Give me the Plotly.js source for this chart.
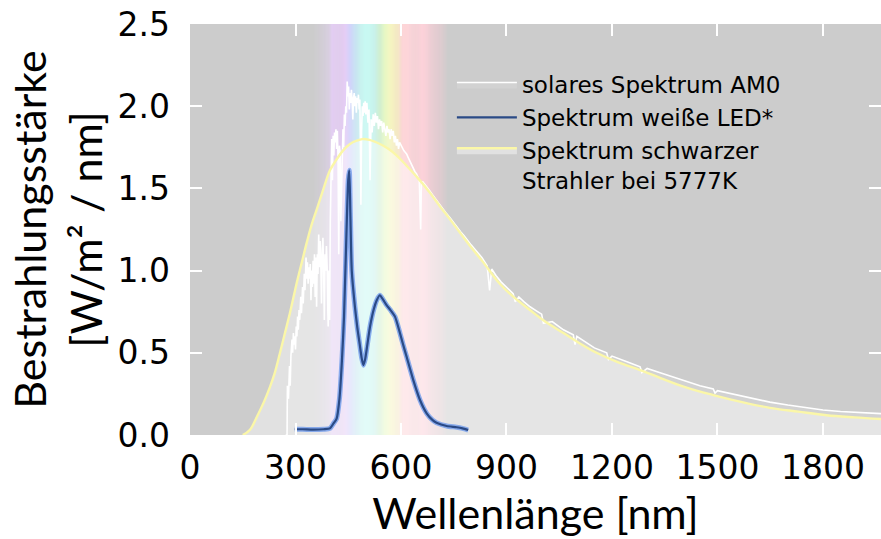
<!DOCTYPE html>
<html>
<head>
<meta charset="utf-8">
<script src="https://cdn.plot.ly/plotly-3.0.1.min.js"></script>
<style>html,body{margin:0;padding:0;background:#fff;overflow:hidden}</style>
</head>
<body>
<div id="chart" style="width:881px;height:539px"></div>
<script>
// ---- Data ----
const solarWl = [272,276,277,280,283,285,287,290,292,294,296,298,300,302,304,306,308,310,312,315,317,320,322,325,327,330,332,334,336,338,340,342,344,346,348,350,352,354,356,358,360,362,364,366,368,370,372,374,376,378,380,382,384,386,388,390,392,393,395,397,399,401,403,405,407,409,411,413,415,417,419,421,423,425,427,429,431,433,435,437,439,441,443,445,447,449,451,453,455,457,459,461,463,465,467,469,471,473,475,477,479,481,483,485,486,488,490,492,494,496,498,500,503,506,509,512,515,518,521,524,527,530,533,536,539,542,545,548,551,554,557,560,563,566,569,572,575,578,581,584,587,590,593,596,600,604,608,612,616,620,624,628,632,636,640,644,648,652,656,658,662,666,670,680,690,700,710,720,730,740,750,760,770,780,790,800,810,820,830,845,852,858,870,885,900,919,925,935,950,967,985,1000,1005,1030,1062,1090,1095,1100,1150,1185,1190,1200,1250,1280,1285,1300,1337,1400,1450,1488,1493,1500,1550,1578,1600,1649,1700,1750,1800,1850,1900,1965];
const solarVal = [0,0,0.30,0.22,0.42,0.30,0.48,0.58,0.50,0.62,0.55,0.60,0.52,0.66,0.60,0.72,0.64,0.76,0.70,0.84,0.74,0.90,0.80,0.98,0.88,1.08,0.95,1.05,0.92,1.02,0.95,1.04,0.82,1.00,0.90,1.06,0.92,1.10,0.84,1.08,0.78,1.10,0.98,1.22,1.02,1.18,1.05,0.80,1.12,1.20,1.00,0.70,1.10,1.00,1.15,1.02,0.75,0.66,1.00,0.70,1.30,1.62,1.80,1.55,1.82,1.70,1.84,1.78,1.86,1.74,1.85,1.68,1.10,1.76,1.72,1.30,1.52,1.80,1.86,1.75,1.95,1.88,2.00,1.96,2.15,2.06,2.12,1.98,2.08,2.02,2.10,2.04,1.92,2.05,2.08,2.00,2.06,1.96,2.05,2.02,2.07,1.98,2.04,1.70,1.40,1.85,2.00,1.94,2.02,1.96,2.03,1.95,2.02,1.90,1.98,1.55,1.92,1.84,1.95,1.88,1.96,1.90,1.94,1.86,1.92,1.88,1.91,1.84,1.90,1.86,1.82,1.88,1.84,1.86,1.80,1.86,1.82,1.85,1.78,1.82,1.76,1.80,1.74,1.78,1.76,1.74,1.73,1.72,1.71,1.69,1.67,1.65,1.63,1.61,1.60,1.59,1.57,1.55,1.25,1.54,1.54,1.53,1.52,1.49,1.46,1.43,1.40,1.37,1.345,1.32,1.29,1.26,1.235,1.21,1.18,1.155,1.13,1.105,1.08,1.03,0.88,1.01,0.97,0.93,0.90,0.86,0.81,0.84,0.81,0.78,0.755,0.735,0.68,0.69,0.64,0.61,0.55,0.60,0.53,0.50,0.46,0.48,0.44,0.415,0.38,0.405,0.379,0.335,0.30,0.28,0.255,0.27,0.245,0.232,0.22,0.20,0.182,0.166,0.152,0.143,0.137,0.13];

const bbWl  = [150,170,190,210,227,240,256,270,284,303,318,332,346,360,380,398,415,435,455,474,490,510,540,565,588,615,645,680,711,740,768,800,834,881,920,967,1010,1062,1110,1156,1220,1280,1340,1410,1488,1570,1649,1730,1810,1890,1965];
const bbVal = [0,0.03,0.11,0.20,0.29,0.37,0.50,0.62,0.74,0.92,1.05,1.17,1.28,1.37,1.50,1.61,1.67,1.73,1.77,1.79,1.80,1.795,1.77,1.74,1.70,1.64,1.57,1.48,1.39,1.31,1.23,1.14,1.05,0.92,0.84,0.76,0.69,0.62,0.555,0.50,0.44,0.395,0.345,0.29,0.243,0.20,0.165,0.142,0.12,0.107,0.097];

const ledWl  = [298,320,350,380,398,408,417,425,432,438,446,450,453,456,460,469,476,482,488,493,498,505,512,522,531,540,550,559,570,583,597,606,616,635,654,673,690,701,730,758,775,791];
const ledVal = [0.035,0.035,0.033,0.035,0.04,0.07,0.10,0.22,0.45,0.72,1.31,1.55,1.61,1.35,1.00,0.78,0.65,0.56,0.47,0.425,0.46,0.56,0.66,0.76,0.82,0.85,0.82,0.79,0.76,0.72,0.62,0.55,0.476,0.334,0.213,0.132,0.09,0.075,0.055,0.047,0.04,0.03];

const xTicks = [0,300,600,900,1200,1500,1800];
const yTicks = [0,0.5,1.0,1.5,2.0,2.5];

const names = ['solares Spektrum AM0','Spektrum weiße LED*','Spektrum schwarzer<br>Strahler bei 5777K'];

// ---- Visible-light background band (decoration) ----
const bandStops = [
  [350,'#cccccc'],[395,'#d8cfe0'],[405,'#e4cdf4'],[440,'#e6cdf6'],[455,'#d2d2fa'],
  [470,'#c8e6fa'],[485,'#c8f8f4'],[525,'#c8f8f0'],[540,'#d2f5d0'],[555,'#e8f7c4'],
  [575,'#fbf7c0'],[592,'#fcecc4'],[603,'#fdd6d8'],[660,'#fdd2da'],[700,'#e8ccd2'],[735,'#cccccc']
];
function hex2rgb(h){return [1,3,5].map(i=>parseInt(h.substr(i,2),16));}
function bandColor(w){
  for(let i=0;i<bandStops.length-1;i++){
    const [w0,c0]=bandStops[i],[w1,c1]=bandStops[i+1];
    if(w>=w0&&w<=w1){
      const t=(w-w0)/(w1-w0),a=hex2rgb(c0),b=hex2rgb(c1);
      return 'rgb('+a.map((v,k)=>Math.round(v+(b[k]-v)*t)).join(',')+')';
    }
  }
  return '#cccccc';
}
const shapes=[];
const step=3;
for(let w=bandStops[0][0]; w<bandStops[bandStops.length-1][0]; w+=step){
  shapes.push({type:'rect',xref:'x',yref:'paper',x0:w,x1:w+step+0.6,y0:0,y1:1,
    fillcolor:bandColor(w+step/2),line:{width:0},layer:'below'});
}

const traces = [
  {x:solarWl,y:solarVal,name:names[0],type:'scatter',mode:'lines',
   line:{color:'#ffffff',width:1.6},fill:'tozeroy',fillcolor:'rgba(255,255,255,0.12)',legendrank:1},
  {x:bbWl,y:bbVal,name:names[2],type:'scatter',mode:'lines',
   line:{color:'#fbf7a8',width:2.4,shape:'spline',smoothing:1},fill:'tozeroy',fillcolor:'rgba(255,255,255,0.42)',legendrank:3},
  {x:ledWl,y:ledVal,name:'halo',type:'scatter',mode:'lines',showlegend:false,hoverinfo:'skip',
   line:{color:'rgba(120,160,235,0.85)',width:5,shape:'spline',smoothing:0.6}},
  {x:ledWl,y:ledVal,name:names[1],type:'scatter',mode:'lines',
   line:{color:'#2a4a86',width:2.2,shape:'spline',smoothing:0.6},legendrank:2}
];

const tickStyle = {ticks:'inside',tickcolor:'#ffffff',ticklen:12,tickwidth:2,mirror:'ticks',
  showgrid:false,zeroline:false,showline:false,
  tickfont:{family:'DejaVu Sans',size:33,color:'#000'}};

const layout = {
  width:881,height:539,
  margin:{l:190,r:0,t:24,b:104},
  paper_bgcolor:'#ffffff',plot_bgcolor:'#cccccc',
  showlegend:true,
  legend:{x:0.379,y:0.905,xanchor:'left',yanchor:'top',valign:'top',bgcolor:'rgba(0,0,0,0)',
    font:{family:'DejaVu Sans',size:23,color:'#000'},tracegroupgap:0,itemwidth:60},
  xaxis:Object.assign({},tickStyle,{range:[0,1965],tickvals:xTicks,ticktext:xTicks.map(String),
    ticklabelstandoff:10,
    title:{text:'Wellenlänge [nm]',font:{family:'Lato',size:43,color:'#000'},standoff:1}}),
  yaxis:Object.assign({},tickStyle,{range:[0,2.5],tickvals:yTicks,ticktext:yTicks.map(v=>v.toFixed(1)),
    ticklabelstandoff:19,
    title:{text:'Bestrahlungsstärke<br>[W/m² / nm]',font:{family:'Lato',size:43,color:'#000'},standoff:1}}),
  shapes:shapes
};

Plotly.newPlot('chart',traces,layout,{displayModeBar:false,staticPlot:true});
</script>
</body>
</html>
